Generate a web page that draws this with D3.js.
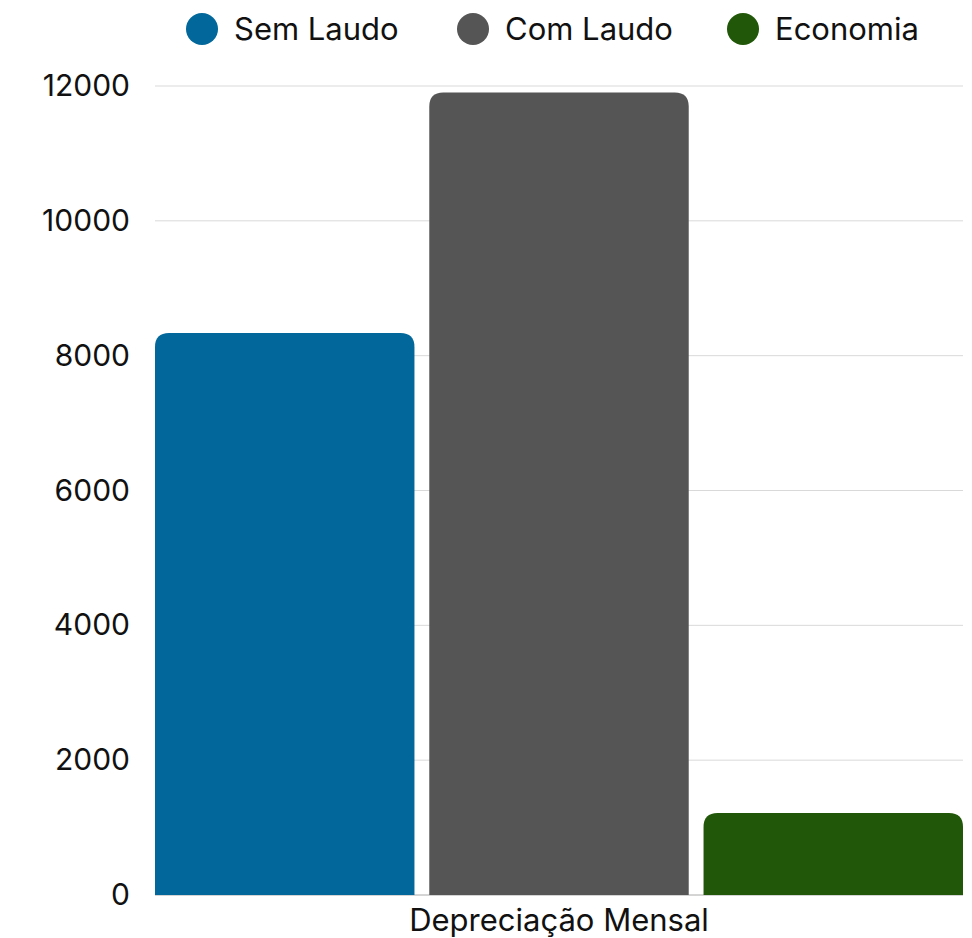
<!DOCTYPE html>
<html>
<head>
<meta charset="utf-8">
<script src="https://cdn.jsdelivr.net/npm/d3@7"></script>
<style>
  body { margin: 0; background: #fff; }
  text { font-family: Inter, "Noto Sans", sans-serif; fill: #111; }
</style>
</head>
<body>
<svg id="chart" width="972" height="938"></svg>
<script>
const categories = ['Depreciação Mensal']
const seriesNames = ['Sem Laudo', 'Com Laudo', 'Economia']
const seriesValues = [8335, 11905, 1217]
const seriesColors = ['#02679a', '#555555', '#215708']
const yTicks = [0, 2000, 4000, 6000, 8000, 10000, 12000]

const svg = d3.select('#chart')
const margin = { top: 86, right: 9, bottom: 43, left: 155 }
const W = 972, H = 938
const innerW = W - margin.left - margin.right
const innerH = H - margin.top - margin.bottom

const g = svg.append('g').attr('transform', `translate(${margin.left},${margin.top})`)

const x0 = d3.scaleBand().domain(categories).range([0, innerW]).padding(0)
const x1 = d3.scaleBand().domain(seriesNames).range([0, x0.bandwidth()]).paddingInner(0.054).paddingOuter(0)
const y = d3.scaleLinear().domain([0, 12000]).range([innerH, 0])

// grid lines
g.append('g')
  .selectAll('line')
  .data(yTicks)
  .join('line')
  .attr('x1', 0).attr('x2', innerW)
  .attr('y1', d => y(d)).attr('y2', d => y(d))
  .attr('stroke', d => d === 0 ? '#aaaaaa' : '#d9d9d9')
  .attr('stroke-width', 1)

// y axis labels
const yAxis = d3.axisLeft(y).tickValues(yTicks).tickFormat(d3.format('d')).tickSize(0).tickPadding(25)
g.append('g').call(yAxis)
  .call(s => s.select('.domain').remove())
  .selectAll('text')
  .style('font-size', '30px')
  .attr('font-family', 'Inter, sans-serif')
  .attr('fill', '#111')

// bars with rounded tops
const r = 14
function barPath(x, yTop, w, yBottom) {
  const rr = Math.min(r, (yBottom - yTop), w / 2)
  return `M${x},${yBottom}V${yTop + rr}Q${x},${yTop} ${x + rr},${yTop}H${x + w - rr}Q${x + w},${yTop} ${x + w},${yTop + rr}V${yBottom}Z`
}

const grp = g.selectAll('.cat')
  .data(categories)
  .join('g')
  .attr('transform', d => `translate(${x0(d)},0)`)

grp.selectAll('path')
  .data(seriesNames.map((n, i) => ({ name: n, value: seriesValues[i], color: seriesColors[i] })))
  .join('path')
  .attr('d', d => barPath(x1(d.name), y(d.value), x1.bandwidth(), y(0)))
  .attr('fill', d => d.color)

// x axis label
const xAxis = d3.axisBottom(x0).tickSize(0).tickPadding(14)
g.append('g').attr('transform', `translate(0,${innerH})`).call(xAxis)
  .call(s => s.select('.domain').remove())
  .selectAll('text')
  .style('font-size', '31px')
  .attr('font-family', 'Inter, sans-serif')
  .attr('fill', '#111')

// legend
const legendX = [202, 473, 743]
const legend = svg.append('g')
  .selectAll('g')
  .data(seriesNames)
  .join('g')
  .attr('transform', (d, i) => `translate(${legendX[i]},29)`)
legend.append('circle').attr('r', 16).attr('fill', (d, i) => seriesColors[i])
legend.append('text')
  .attr('x', 32).attr('dy', '0.35em')
  .style('font-size', '31px')
  .text(d => d)
</script>
</body>
</html>
